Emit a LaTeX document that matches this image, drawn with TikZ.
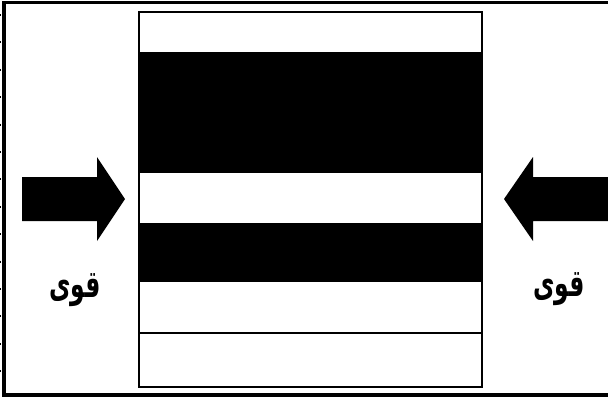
\documentclass[tikz,border=0pt]{standalone}
\usepackage{fontspec}
\newfontfamily\arabicfont[Script=Arabic]{DejaVu Sans}
\TeXXeTstate=1
\begin{document}
\begin{tikzpicture}[x=1pt,y=-1pt,
  bigarrow/.style={fill=black,draw=none},
  forcelabel/.style={font=\arabicfont\bfseries\fontsize{26}{30}\selectfont,inner sep=0pt,xscale=0.9,yscale=1.45}]
\useasboundingbox (0,0) rectangle (608,400);
\fill[white] (0,0) rectangle (608,400);
% outer frame (left, top, bottom)
\draw[line width=3.5pt] (608,2.5) -- (4,2.5) -- (4,395) -- (608,395);
\draw[line width=1pt,dash pattern=on 2pt off 25.4pt] (0.5,14) -- (0.5,392);
% layered block
\fill[white] (139,12) rectangle (482,52);
\fill[black] (139,52) rectangle (482,173);
\fill[white] (139,173) rectangle (482,223);
\fill[black] (139,223) rectangle (482,282);
\fill[white] (139,282) rectangle (482,387);
\draw[line width=2.5pt] (139,333) -- (482,333);
\draw[line width=2.5pt] (139,12) rectangle (482,387);
% arrows
\fill[bigarrow] (22,177) -- (97,177) -- (97,157) -- (125,199) -- (97,241) -- (97,221) -- (22,221) -- cycle;
\fill[bigarrow] (608,177) -- (533,177) -- (533,157) -- (504,199) -- (533,241) -- (533,221) -- (608,221) -- cycle;
% labels
\node[forcelabel] (lleft) at (75,290) {\beginR قوی\endR};
\node[forcelabel] (lright) at (559,289) {\beginR قوی\endR};
\end{tikzpicture}
\end{document}
